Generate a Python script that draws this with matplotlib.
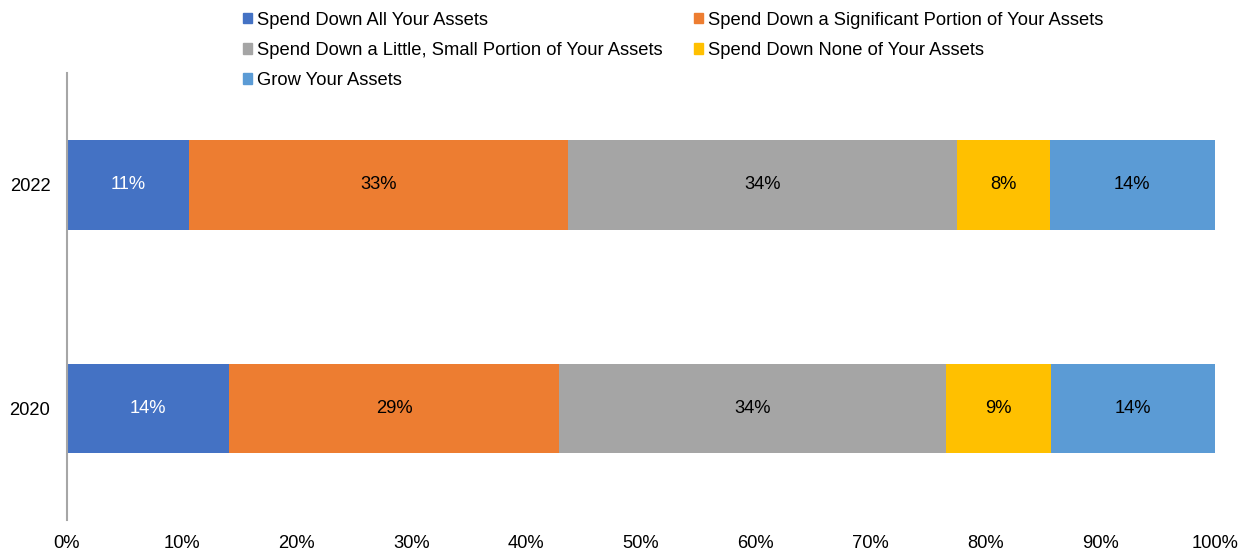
import matplotlib.pyplot as plt
from matplotlib.patches import Patch

plt.rcParams['font.family'] = ['Liberation Sans', 'DejaVu Sans']

years = ["2020", "2022"]
categories = ["Spend Down All Your Assets",
              "Spend Down a Significant Portion of Your Assets",
              "Spend Down a Little, Small Portion of Your Assets",
              "Spend Down None of Your Assets",
              "Grow Your Assets"]
# shares in percent, order: 2020, 2022
all_assets = [14.1, 10.6]
significant = [28.8, 33.0]
little = [33.7, 33.9]
none_ = [9.1, 8.1]
grow = [14.3, 14.4]
series = [all_assets, significant, little, none_, grow]
colors = ["#4472C4", "#ED7D31", "#A5A5A5", "#FFC000", "#5B9BD5"]
text_colors = ["white", "black", "black", "black", "black"]

FS = 13.2

fig = plt.figure(figsize=(12.5, 5.5), dpi=100)
ax = fig.add_axes([0.0536, 0.0545, 0.9184, 0.8125])

ypos = range(len(years))
left = [0.0] * len(years)
for vals, c, tc in zip(series, colors, text_colors):
    ax.barh(ypos, vals, left=left, height=0.4, color=c)
    for i, v in enumerate(vals):
        ax.text(left[i] + v / 2, i, "{:.0f}%".format(v), ha='center', va='center',
                color=tc, fontsize=FS)
    left = [l + v for l, v in zip(left, vals)]

ax.set_xlim(0, 100)
ax.set_ylim(-0.5, 1.5)
ax.set_yticks(list(ypos))
ax.set_yticklabels(years, fontsize=FS)
ax.set_xticks(range(0, 101, 10))
ax.set_xticklabels(["{}%".format(t) for t in range(0, 101, 10)], fontsize=FS)
ax.tick_params(axis='both', length=0)
ax.tick_params(axis='x', pad=11)
ax.tick_params(axis='y', pad=12)
for s in ["top", "right", "bottom"]:
    ax.spines[s].set_visible(False)
ax.spines["left"].set_color("#A6A6A6")
ax.spines["left"].set_linewidth(1.5)

handles = [Patch(color=c, label=l) for c, l in zip(colors, categories)]
order = [0, 2, 4, 1, 3]
fig.legend([handles[i] for i in order], [categories[i] for i in order],
           loc='upper left', bbox_to_anchor=(0.184, 1.002), ncol=2, frameon=False,
           fontsize=FS, handlelength=0.5, handleheight=0.5, handletextpad=0.25,
           columnspacing=1.75, labelspacing=0.72, borderaxespad=0.3)

fig.savefig("out.png", dpi=100)
